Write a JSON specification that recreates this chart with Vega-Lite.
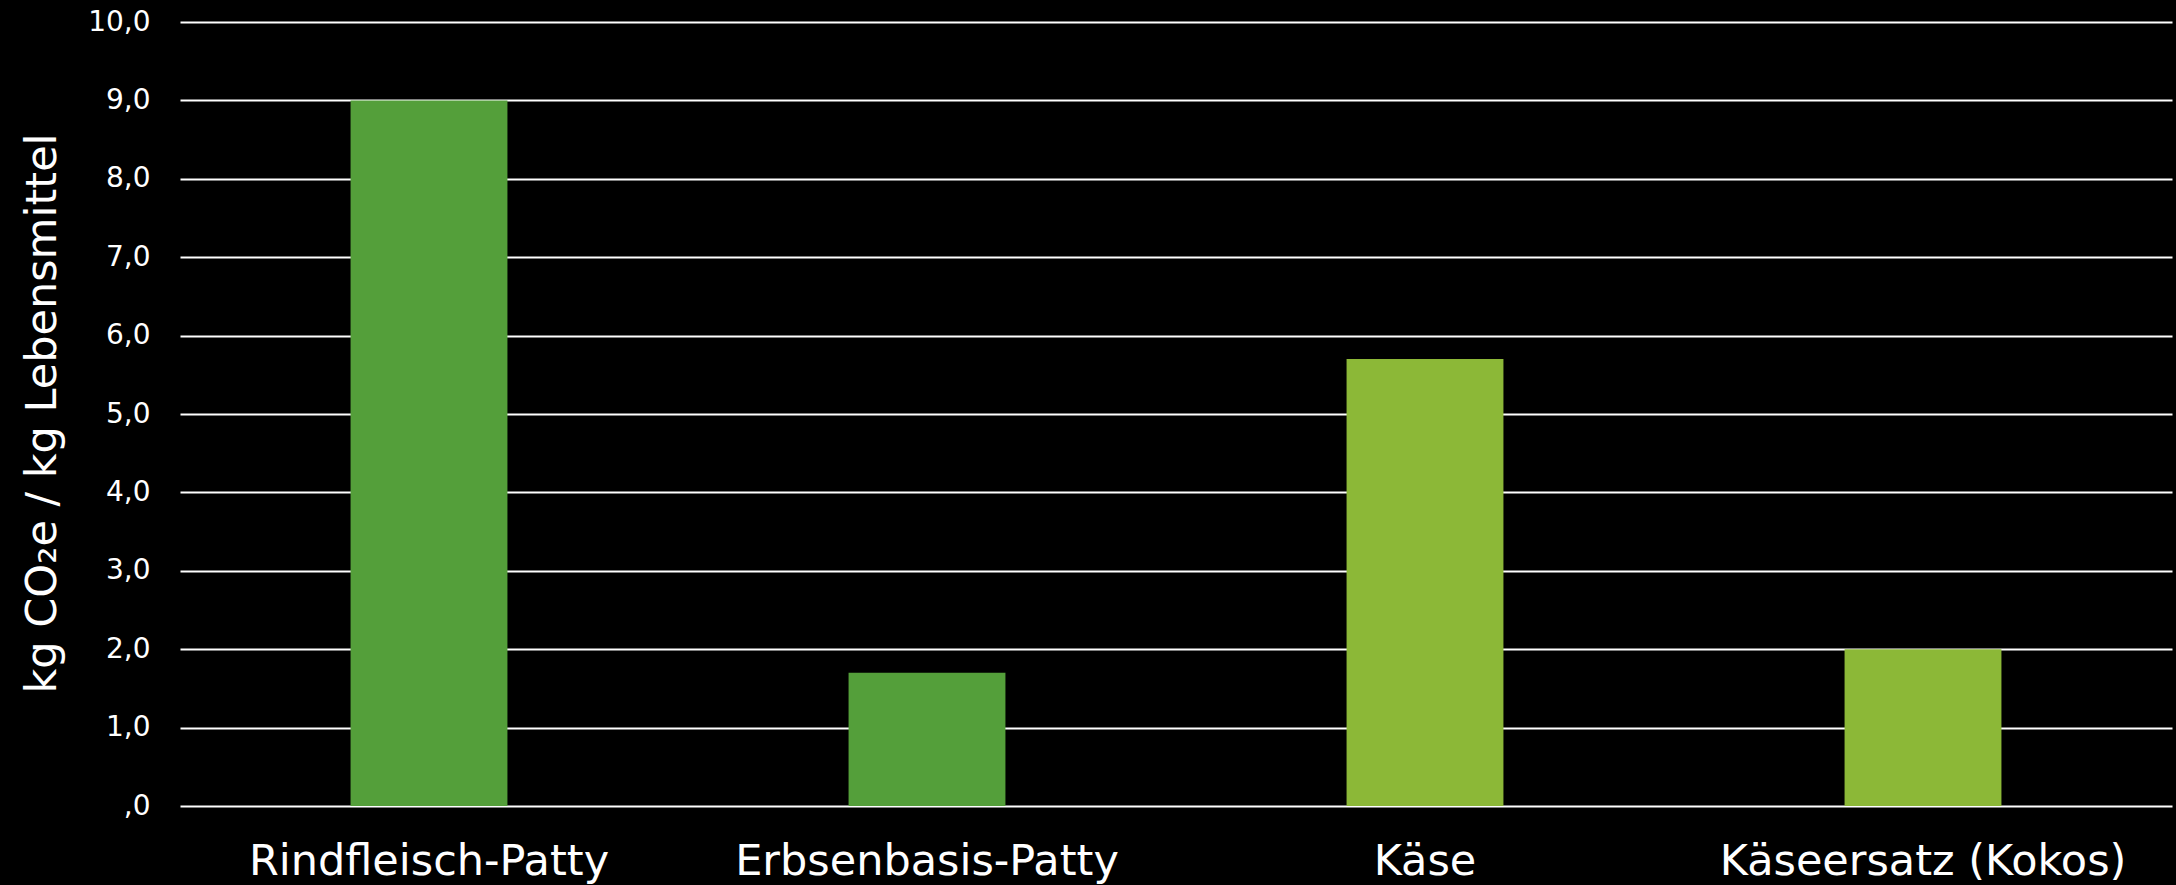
{
  "$schema": "https://vega.github.io/schema/vega-lite/v6.json",
  "width": 1992,
  "height": 784,
  "autosize": {"type": "none"},
  "padding": {"left": 180, "top": 22, "right": 4, "bottom": 79},
  "background": "#000000",
  "config": {"view": {"stroke": null}, "font": "DejaVu Sans"},
  "data": {"values": [
    {"item": "Rindfleisch-Patty", "value": 9.0, "group": "a"},
    {"item": "Erbsenbasis-Patty", "value": 1.7, "group": "a"},
    {"item": "Käse", "value": 5.7, "group": "b"},
    {"item": "Käseersatz (Kokos)", "value": 2.0, "group": "b"}
  ]},
  "mark": {"type": "bar"},
  "encoding": {
    "x": {
      "field": "item", "type": "nominal", "sort": null,
      "scale": {"paddingInner": 0.685, "paddingOuter": 0.3425},
      "axis": {
        "title": null, "labelAngle": 0, "labelColor": "#ffffff", "labelFontSize": 43,
        "labelLimit": 0, "labelPadding": 34, "ticks": false, "domain": false, "grid": false
      }
    },
    "y": {
      "field": "value", "type": "quantitative",
      "scale": {"domain": [0, 10], "nice": false},
      "axis": {
        "title": "kg CO₂e / kg Lebensmittel",
        "titleColor": "#ffffff", "titleFontSize": 43, "titleFontWeight": "normal",
        "titleX": -125, "titleY": 391, "titleBaseline": "alphabetic", "titleAngle": -90, "titleAlign": "center",
        "values": [0, 1, 2, 3, 4, 5, 6, 7, 8, 9, 10],
        "labelExpr": "datum.value == 0 ? ',0' : replace(format(datum.value, '.1f'), '.', ',')",
        "labelColor": "#ffffff", "labelFontSize": 28, "labelPadding": 30,
        "ticks": false, "domain": false,
        "grid": true, "gridColor": "#ffffff", "gridWidth": 2, "gridOpacity": 1
      }
    },
    "color": {
      "field": "group", "type": "nominal", "legend": null,
      "scale": {"domain": ["a", "b"], "range": ["#549F3A", "#8CB837"]}
    }
  }
}
